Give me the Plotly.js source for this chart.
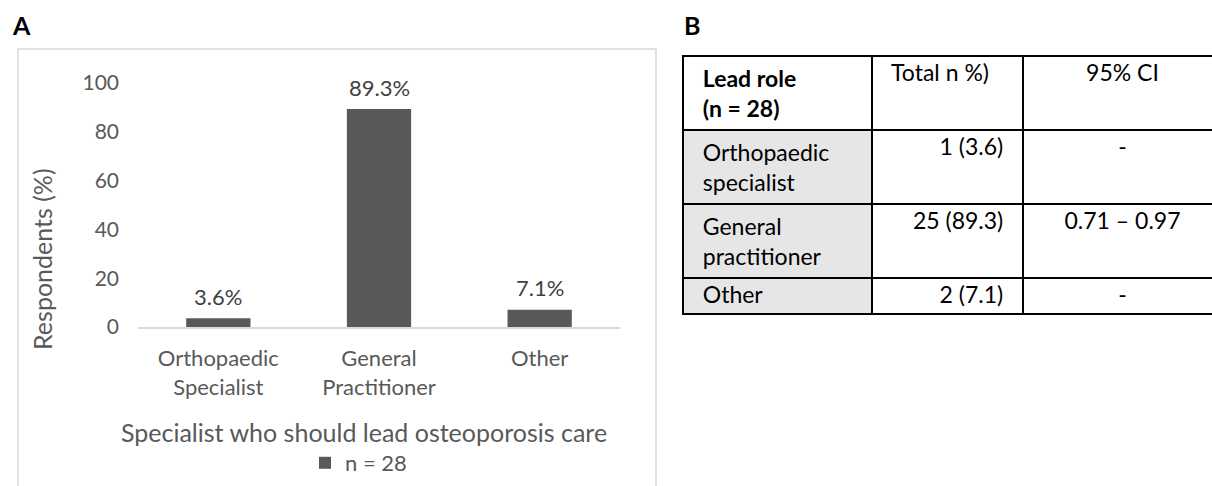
<!DOCTYPE html>
<html>
<head>
<meta charset="utf-8">
<script src="https://cdn.plot.ly/plotly-3.0.1.min.js"></script>
<style>
html,body{margin:0;padding:0;background:#fff;overflow:hidden;width:1212px;height:486px;}
#chart{width:1240px;height:486px;}
</style>
</head>
<body>
<div id="chart"></div>
<script>
// ---- data ----
const categories = ['Orthopaedic<br>Specialist', 'General<br>Practitioner', 'Other'];
const percents = [3.6, 89.3, 7.1];
const yTicks = [0, 20, 40, 60, 80, 100];
const seriesName = 'n = 28';
const xTitle = 'Specialist who should lead osteoporosis care';
const yTitle = 'Respondents (%)';

const tableHeader = ['<b>Lead role</b><br><b>(n = 28)</b>', 'Total n %)', '95% CI'];
const leadRoles = ['Orthopaedic<br>specialist', 'General<br>practitioner', 'Other'];
const totals = ['1 (3.6)', '25 (89.3)', '2 (7.1)'];
const ci95 = ['-', '0.71 – 0.97', '-'];

// ---- layout helpers ----
const W = 1240, H = 486;
const px = v => v / W;
const py = v => 1 - v / H;
const FONT = 'Lato, "Open Sans", sans-serif';
const GREY = '#595959';
const PAD = '\u00a0\u00a0';
const padLeft = s => PAD + s.split('<br>').join('<br>' + PAD);
const padRight = s => s + PAD;

const bar = {
  type: 'bar',
  x: categories,
  y: percents,
  name: seriesName,
  marker: {color: GREY},
  showlegend: true,
  hoverinfo: 'skip'
};

const table = {
  type: 'table',
  domain: {x: [px(683), px(1222)], y: [0, py(56)]},
  columnwidth: [189, 151, 199],
  header: {
    values: [padLeft(tableHeader[0]), padLeft(tableHeader[1]), tableHeader[2]],
    align: ['left', 'left', 'center'],
    fill: {color: '#ffffff'},
    line: {color: '#000000', width: 2},
    font: {family: FONT, size: 23, color: '#000000'},
    height: 36
  },
  cells: {
    values: [leadRoles.map(padLeft), totals.map(padRight), ci95],
    align: ['left', 'right', 'center'],
    fill: {color: ['#e7e6e6', '#ffffff', '#ffffff']},
    line: {color: '#000000', width: 2},
    font: {family: FONT, size: 23, color: '#000000'},
    height: 36
  }
};

const annotations = percents.map((v, i) => ({
  x: categories[i], y: v, xref: 'x', yref: 'y',
  text: v.toFixed(1) + '%', showarrow: false,
  xanchor: 'center', yanchor: 'middle', yshift: 22,
  font: {family: FONT, size: 22, color: '#404040'}
}));
annotations.push(
  {x: px(42), y: py(259), xref: 'paper', yref: 'paper', xanchor: 'center', yanchor: 'middle',
   text: yTitle, textangle: -90,
   showarrow: false, font: {family: FONT, size: 25, color: GREY}},
  {x: px(364), y: py(432), xref: 'paper', yref: 'paper', xanchor: 'center', yanchor: 'middle',
   text: xTitle, showarrow: false, font: {family: FONT, size: 25, color: GREY}},
  {x: px(10), y: py(25), xref: 'paper', yref: 'paper', xanchor: 'left', yanchor: 'middle',
   text: '<b>A</b>', showarrow: false, font: {family: FONT, size: 25, color: '#000000'}},
  {x: px(682), y: py(25), xref: 'paper', yref: 'paper', xanchor: 'left', yanchor: 'middle',
   text: '<b>B</b>', showarrow: false, font: {family: FONT, size: 25, color: '#000000'}}
);

const layout = {
  width: W, height: H,
  margin: {l: 0, r: 0, t: 0, b: 0},
  paper_bgcolor: '#ffffff',
  plot_bgcolor: '#ffffff',
  font: {family: FONT, color: GREY},
  bargap: 0.6,
  xaxis: {
    domain: [px(138), px(620)],
    showline: true, linecolor: '#d9d9d9', linewidth: 1.5,
    showgrid: false, zeroline: false, ticks: '',
    tickfont: {family: FONT, size: 22, color: GREY},
    ticklabelstandoff: 11,
    fixedrange: true
  },
  yaxis: {
    domain: [py(327), py(83)],
    range: [0, 100],
    tickvals: yTicks,
    showline: false, showgrid: false, zeroline: false, ticks: '',
    tickfont: {family: FONT, size: 21, color: GREY},
    ticklabelstandoff: 18,
    fixedrange: true
  },
  showlegend: true,
  legend: {
    orientation: 'h', x: px(305), y: py(463), xanchor: 'left', yanchor: 'middle',
    font: {family: FONT, size: 22, color: GREY},
    bgcolor: 'rgba(0,0,0,0)', itemwidth: 30
  },
  shapes: [{
    type: 'rect', xref: 'paper', yref: 'paper',
    x0: px(18), x1: px(656), y0: -0.05, y1: py(49),
    line: {color: '#d9d9d9', width: 1.5}, fillcolor: 'rgba(0,0,0,0)'
  }],
  annotations: annotations
};

Plotly.newPlot('chart', [bar, table], layout, {displayModeBar: false, staticPlot: true});
</script>
</body>
</html>
